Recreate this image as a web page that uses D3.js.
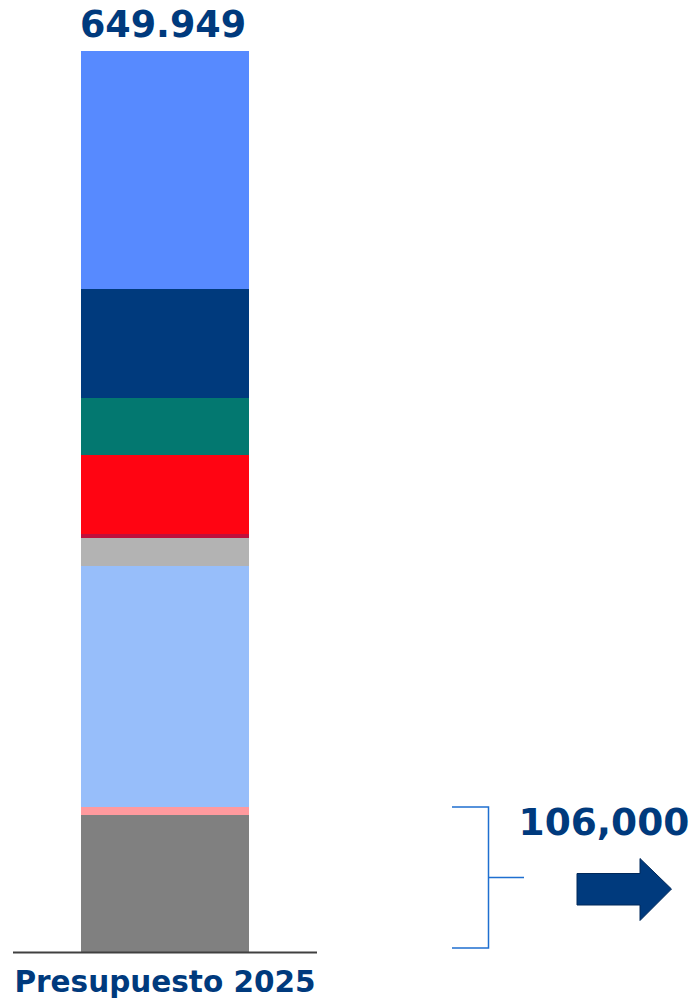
<!DOCTYPE html>
<html>
<head>
<meta charset="utf-8">
<script src="https://cdn.jsdelivr.net/npm/d3@7"></script>
<style>
  html, body { margin: 0; padding: 0; background: #fff; }
  svg { display: block; }
  text { font-family: "DejaVu Sans", Verdana, sans-serif; font-weight: bold; }
</style>
</head>
<body>
<svg id="chart" width="694" height="1001"></svg>
<script>
// ---- Data (bottom to top) ----
const categories = ["Presupuesto 2025"];
const segmentNames = ["s1", "s2", "s3", "s4", "s5", "s6", "s7", "s8", "s9"];
const segmentValues = [98.8, 5.8, 174.1, 20.0, 3.1, 56.8, 41.3, 78.3, 171.749];
const segmentColors = ["#808080", "#FF9A9E", "#97BEFA", "#B3B3B3", "#C0103C", "#FF0412", "#037870", "#003A7D", "#578AFF"];
const totalLabel = "649.949";
const bracketRange = [0, 104.6];
const bracketLabel = "106,000";

const svg = d3.select("#chart");
const total = d3.sum(segmentValues);

const x = d3.scaleBand().domain(categories).range([13, 317]).paddingInner(0).paddingOuter(0.4);
const y = d3.scaleLinear().domain([0, total]).range([952, 51]);

// stacked data
let cum = 0;
const stacked = segmentValues.map((v, i) => {
  const d = { name: segmentNames[i], y0: cum, y1: cum + v, color: segmentColors[i] };
  cum += v;
  return d;
});

svg.append("g").selectAll("rect")
  .data(stacked)
  .join("rect")
  .attr("x", x(categories[0]))
  .attr("width", x.bandwidth())
  .attr("y", d => y(d.y1))
  .attr("height", d => y(d.y0) - y(d.y1))
  .attr("fill", d => d.color)
  .attr("shape-rendering", "crispEdges");

// baseline axis
const xAxis = d3.axisBottom(x).tickSize(0).tickPadding(0);
const axisG = svg.append("g").attr("transform", `translate(0, ${y(0) + 0.5})`).call(xAxis);
axisG.select(".domain").attr("stroke", "#404040").attr("stroke-width", 2).attr("d", "M13,0H317");
axisG.selectAll(".tick text")
  .attr("dy", null)
  .attr("y", 39)
  .attr("fill", "#003A7D")
  .attr("font-size", "29.5px")
  .attr("font-family", "\"DejaVu Sans\", Verdana, sans-serif")
  .attr("font-weight", "bold");

// total label
svg.append("text")
  .attr("x", x(categories[0]) + x.bandwidth() / 2 - 2)
  .attr("y", y(total) - 14)
  .attr("text-anchor", "middle")
  .attr("fill", "#003A7D")
  .attr("font-size", "36.5px")
  .text(totalLabel);

// bracket
const by0 = y(bracketRange[0]) - 4, by1 = y(bracketRange[1]);
const bx = 488.5;
const bracket = svg.append("g").attr("stroke", "#1F6FD0").attr("stroke-width", 1.5).attr("fill", "none");
bracket.append("path").attr("d", `M452,${by1}H${bx}V${by0}H452`);
bracket.append("line").attr("x1", bx).attr("x2", 524).attr("y1", (by0 + by1) / 2).attr("y2", (by0 + by1) / 2);

svg.append("text")
  .attr("x", 604)
  .attr("y", 835)
  .attr("text-anchor", "middle")
  .attr("fill", "#003A7D")
  .attr("font-size", "37.5px")
  .text(bracketLabel);

// arrow
svg.append("path")
  .attr("d", "M577,873.5H640V858.5L671.5,889L640,920.5V905H577Z")
  .attr("fill", "#003A7D")
  .attr("stroke", "#00285A")
  .attr("stroke-width", 1);
</script>
</body>
</html>
